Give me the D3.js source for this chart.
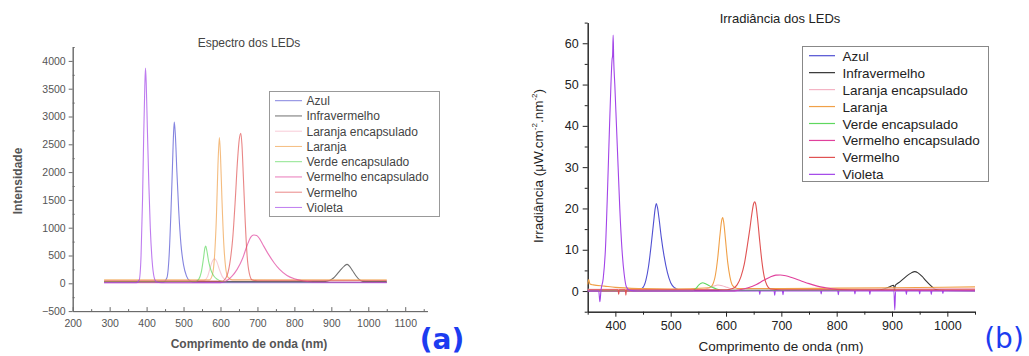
<!DOCTYPE html>
<html>
<head>
<meta charset="utf-8">
<script src="https://cdn.jsdelivr.net/npm/d3@7"></script>
<style>
  html, body { margin: 0; padding: 0; background: #fff; }
  svg { display: block; font-family: "Liberation Sans", Arial, sans-serif; }
</style>
</head>
<body>
<svg id="chart" width="1029" height="356"></svg>
<script>
// ── Series names / colours (same order as both legends) ──────────────────────
const seriesNames = ['Azul', 'Infravermelho', 'Laranja encapsulado', 'Laranja',
  'Verde encapsulado', 'Vermelho encapsulado', 'Vermelho', 'Violeta'];
const seriesColors = ['#5050d2', '#333333', '#f4b4c4', '#f0a048',
  '#5ed85e', '#e0409c', '#e05252', '#a244e8'];

// ── (a) Espectro dos LEDs: [nm, intensidade] ────────────────────────────────
const specAzul = [[285,20],[445,20],[455,100],[461,500],[466,1300],[470,2100],[473,2700],[475,2900],
  [478,2650],[482,2000],[487,1300],[493,700],[500,330],[508,130],[518,40],[530,20],[1050,20]];
const specInfra = [[285,30],[880,30],[895,50],[905,90],[915,160],[925,240],[935,310],[943,340],
  [950,300],[958,220],[966,140],[975,70],[985,35],[1000,30],[1050,30]];
const specLarEnc = [[285,50],[555,50],[565,120],[573,300],[579,410],[584,440],[590,390],[597,250],
  [605,120],[615,60],[1050,50]];
const specLaranja = [[285,62],[570,62],[578,150],[584,500],[589,1200],[593,2100],[597,2620],[600,2300],
  [604,1500],[609,700],[614,280],[620,110],[632,62],[1050,62]];
const specVerdeEnc = [[285,30],[532,30],[541,70],[548,200],[554,450],[558,640],[560,670],[563,590],
  [568,390],[574,240],[582,130],[592,70],[605,30],[620,15],[1050,15]];
const specVermEnc = [[285,10],[600,10],[615,40],[630,120],[645,250],[660,450],[672,680],[682,830],
  [690,868],[698,860],[706,800],[716,680],[730,520],[745,370],[760,250],[780,140],[800,80],
  [825,40],[850,20],[1050,15]];
const specVermelho = [[285,40],[605,40],[615,100],[625,350],[633,800],[640,1500],[646,2200],[651,2600],
  [655,2700],[658,2500],[662,1900],[667,1100],[672,500],[678,180],[686,60],[700,45],[1050,45]];
const specVioleta = [[285,10],[372,10],[380,60],[385,500],[389,1500],[392,2600],[395,3500],[397,3870],
  [399,3600],[402,2800],[406,1800],[410,1000],[415,400],[420,120],[426,30],[440,10],[1050,10]];

// ── (b) Irradiância dos LEDs: [nm, µW.cm-2.nm-2] ────────────────────────────
const irrAzul = [[350,0.2],[440,0.3],[448,0.6],[455,2.5],[460,6],[465,11.5],[469,16.5],[472,20],
  [474,21.2],[476,20.3],[479,17.5],[483,13],[488,8.5],[494,4.5],[500,2],[507,0.8],[515,0.3],
  [530,0.2],[1050,0.2]];
const irrInfra = [[350,0],[870,0.2],[885,0.5],[895,1.0],[903,1.4],[904.5,0],[906,1.4],[912,2.0],
  [920,2.9],[928,3.8],[935,4.4],[941,4.7],[947,4.4],[954,3.6],[962,2.4],[970,1.3],[977,0.5],
  [985,0.2],[1050,0.1]];
const irrLarEnc = [[350,0.4],[560,0.4],[570,0.8],[578,1.2],[585,1.45],[593,1.3],[602,0.9],[612,0.5],
  [625,0.4],[1050,0.6]];
const irrLaranja = [[350,1.6],[352,2.8],[354,1.7],[360,1.5],[380,1.2],[400,0.9],[450,0.6],[500,0.5],
  [570,0.8],[576,1.6],[581,4],[585,8],[589,13.5],[592,17],[594,17.8],[596,16.5],[599,12.5],
  [603,7],[607,3.5],[612,1.3],[620,0.6],[700,0.6],[800,0.7],[900,0.8],[1050,1.0]];
const irrVerdeEnc = [[350,0.1],[540,0.1],[546,0.7],[551,1.5],[555,1.9],[558,2.0],[562,1.8],[568,1.4],
  [575,0.9],[583,0.5],[595,0.2],[1050,0.1]];
const irrVermEnc = [[350,0],[610,0],[625,0.3],[640,0.8],[655,1.6],[668,2.6],[680,3.4],[690,3.85],
  [698,3.9],[708,3.7],[720,3.2],[735,2.5],[750,1.8],[765,1.2],[780,0.8],[800,0.4],[830,0.2],
  [1050,0.1]];
const irrVermelho = [[350,0.3],[405,0.3],[406,-0.8],[407,0.3],[418,0.3],[419,-1.0],[420,0.3],
  [600,0.3],[612,0.6],[620,1.5],[627,3.5],[633,6.5],[638,10.5],[643,15],[647,19],[650,21.2],
  [652,21.6],[654,20.8],[657,17.5],[661,12],[665,7],[669,3.5],[674,1.4],[680,0.5],[700,0.3],
  [1050,0.3]];
const irrVioleta = [[350,0],[370,0],[372,-2.6],[374,0.2],[378,3],[382,10],[386,25],[389,38],[392,50],
  [394,56],[395,57],[396,62],[397,56],[399,50],[402,40],[405,30],[408,20],[412,10],[416,4],
  [420,1],[426,0.2],[440,0],[660,0],[661,-0.8],[662,0],[687,0],[688,-1.0],[689,0],[702,0],
  [703,-0.9],[704,0],[771,0],[772,-0.7],[773,0],[802,0],[803,-0.9],[804,0],[832,0],[833,-0.7],
  [834,0],[859,0],[860,-0.8],[861,0],[903.5,0],[905,-4.6],[906.5,0],[925,0],[926,-0.8],[927,0],
  [949,0],[950,-0.7],[951,0],[970,0],[971,-0.8],[972,0],[991,0],[992,-0.6],[993,0],[1050,0]];

const specSeries = [specAzul, specInfra, specLarEnc, specLaranja, specVerdeEnc, specVermEnc, specVermelho, specVioleta];
const irrSeries  = [irrAzul, irrInfra, irrLarEnc, irrLaranja, irrVerdeEnc, irrVermEnc, irrVermelho, irrVioleta];

// ── Tick values ─────────────────────────────────────────────────────────────
const specXTicks = d3.range(200, 1101, 100);
const specXMinor = d3.range(250, 1151, 100);
const specYTicks = d3.range(-500, 4001, 500);
const specYMinor = d3.range(-250, 4251, 500);
const irrXTicks  = d3.range(400, 1001, 100);
const irrXMinor  = d3.range(350, 1051, 100);
const irrYTicks  = d3.range(0, 61, 10);
const irrYMinor  = d3.range(-5, 66, 10);

const svg = d3.select('#chart');
const fmt = d3.format('d');

// ── Panel (a) ───────────────────────────────────────────────────────────────
const xA = d3.scaleLinear().domain([200, 1160]).range([72.7, 427.4]);
const yA = d3.scaleLinear().domain([-500, 4250]).range([311.1, 47]);
const gA = svg.append('g');
const greyA = '#6a6a6a';

gA.append('g').attr('transform', `translate(0,${yA(-500)})`)
  .call(d3.axisBottom(xA).tickValues(specXTicks).tickFormat(fmt).tickSize(-4).tickSizeOuter(0).tickPadding(8))
  .call(g => g.selectAll('text').attr('font-size', 10.5).attr('fill', '#555'))
  .call(g => g.selectAll('line, path').attr('stroke', greyA));
gA.append('g').attr('transform', `translate(0,${yA(-500)})`)
  .call(d3.axisBottom(xA).tickValues(specXMinor).tickSize(-2).tickSizeOuter(0).tickFormat(''))
  .call(g => g.selectAll('line, path').attr('stroke', greyA));
gA.append('g').attr('transform', `translate(${xA(200)},0)`)
  .call(d3.axisLeft(yA).tickValues(specYTicks).tickFormat(fmt).tickSize(4).tickSizeOuter(0).tickPadding(3))
  .call(g => g.selectAll('text').attr('font-size', 10.5).attr('fill', '#555'))
  .call(g => g.selectAll('line, path').attr('stroke', greyA));
gA.append('g').attr('transform', `translate(${xA(200)},0)`)
  .call(d3.axisLeft(yA).tickValues(specYMinor).tickSize(-2).tickSizeOuter(0).tickFormat(''))
  .call(g => g.selectAll('line, path').attr('stroke', greyA));

const lineA = d3.line().x(d => xA(d[0])).y(d => yA(d[1])).curve(d3.curveMonotoneX);
gA.append('g').selectAll('path').data(specSeries).join('path')
  .attr('d', lineA).attr('fill', 'none')
  .attr('stroke', (d, i) => seriesColors[i]).attr('stroke-width', 1.1).attr('stroke-opacity', 0.7);

gA.append('text').attr('x', 249).attr('y', 47).attr('text-anchor', 'middle')
  .attr('font-size', 12).attr('fill', '#444').text('Espectro dos LEDs');
gA.append('text').attr('x', 249).attr('y', 348).attr('text-anchor', 'middle')
  .attr('font-size', 12).attr('font-weight', 'bold').attr('fill', '#555').text('Comprimento de onda (nm)');
gA.append('text').attr('transform', 'translate(22,181) rotate(-90)').attr('text-anchor', 'middle')
  .attr('font-size', 12).attr('font-weight', 'bold').attr('fill', '#555').text('Intensidade');

// legend (a)
const legA = gA.append('g');
legA.append('rect').attr('x', 269.5).attr('y', 91.5).attr('width', 170).attr('height', 125)
  .attr('fill', '#fff').attr('stroke', '#999');
seriesNames.forEach((name, i) => {
  const y = 100.7 + i * 15.25;
  legA.append('line').attr('x1', 275).attr('x2', 302).attr('y1', y).attr('y2', y)
    .attr('stroke', seriesColors[i]).attr('stroke-opacity', 0.7);
  legA.append('text').attr('x', 306.5).attr('y', y + 4.3).attr('font-size', 12)
    .attr('fill', '#444').text(name);
});

// ── Panel (b) ───────────────────────────────────────────────────────────────
const xB = d3.scaleLinear().domain([350, 1050]).range([587.7, 975]);
const yB = d3.scaleLinear().domain([-5, 65]).range([311.7, 22.6]);
const gB = svg.append('g');

gB.append('g').attr('transform', `translate(0,${yB(-5)})`)
  .call(d3.axisBottom(xB).tickValues(irrXTicks).tickFormat(fmt).tickSize(5).tickSizeOuter(0).tickPadding(4))
  .call(g => g.selectAll('text').attr('font-size', 12.5).attr('fill', '#222'))
  .call(g => g.selectAll('line, path').attr('stroke', '#222'));
gB.append('g').attr('transform', `translate(0,${yB(-5)})`)
  .call(d3.axisBottom(xB).tickValues(irrXMinor).tickSize(3).tickSizeOuter(0).tickFormat(''))
  .call(g => g.selectAll('line, path').attr('stroke', '#222'));
gB.append('g').attr('transform', `translate(${xB(350)},0)`)
  .call(d3.axisLeft(yB).tickValues(irrYTicks).tickFormat(fmt).tickSize(5).tickSizeOuter(0).tickPadding(4))
  .call(g => g.selectAll('text').attr('font-size', 12.5).attr('fill', '#222'))
  .call(g => g.selectAll('line, path').attr('stroke', '#222'));
gB.append('g').attr('transform', `translate(${xB(350)},0)`)
  .call(d3.axisLeft(yB).tickValues(irrYMinor).tickSize(3).tickSizeOuter(0).tickFormat(''))
  .call(g => g.selectAll('line, path').attr('stroke', '#222'));

const lineB = d3.line().x(d => xB(d[0])).y(d => yB(d[1])).curve(d3.curveMonotoneX);
gB.append('g').selectAll('path').data(irrSeries).join('path')
  .attr('d', lineB).attr('fill', 'none')
  .attr('stroke', (d, i) => seriesColors[i]).attr('stroke-width', 1.1);

gB.append('text').attr('x', 780).attr('y', 23).attr('text-anchor', 'middle')
  .attr('font-size', 13).attr('fill', '#222').text('Irradiância dos LEDs');
gB.append('text').attr('x', 781).attr('y', 351).attr('text-anchor', 'middle')
  .attr('font-size', 13.5).attr('fill', '#222').text('Comprimento de onda (nm)');
const yLabB = gB.append('text').attr('transform', 'translate(543,166) rotate(-90)')
  .attr('text-anchor', 'middle').attr('font-size', 13.5).attr('fill', '#222');
yLabB.append('tspan').text('Irradiância (μW.cm');
yLabB.append('tspan').attr('font-size', 8).attr('dy', -6).text('-2');
yLabB.append('tspan').attr('dy', 6).text('.nm');
yLabB.append('tspan').attr('font-size', 8).attr('dy', -6).text('-2');
yLabB.append('tspan').attr('dy', 6).text(')');

// legend (b)
const legB = gB.append('g');
legB.append('rect').attr('x', 802.5).attr('y', 46.5).attr('width', 186).attr('height', 135)
  .attr('fill', '#fff').attr('stroke', '#888');
seriesNames.forEach((name, i) => {
  const y = 55.7 + i * 16.95;
  legB.append('line').attr('x1', 809).attr('x2', 835).attr('y1', y).attr('y2', y)
    .attr('stroke', seriesColors[i]).attr('stroke-width', 1.2);
  legB.append('text').attr('x', 842.5).attr('y', y + 5).attr('font-size', 13.5)
    .attr('fill', '#222').text(name);
});

// ── handwritten panel marks ─────────────────────────────────────────────────
svg.append('text').attr('x', 442).attr('y', 349).attr('text-anchor', 'middle')
  .attr('font-size', 28).attr('font-weight', 'bold').attr('fill', '#1c3cf0')
  .attr('font-family', 'DejaVu Sans').text('(a)');
svg.append('text').attr('x', 1004).attr('y', 348).attr('text-anchor', 'middle')
  .attr('font-size', 28).attr('fill', '#1c3cf0')
  .attr('font-family', 'DejaVu Sans').text('(b)');
</script>
</body>
</html>
